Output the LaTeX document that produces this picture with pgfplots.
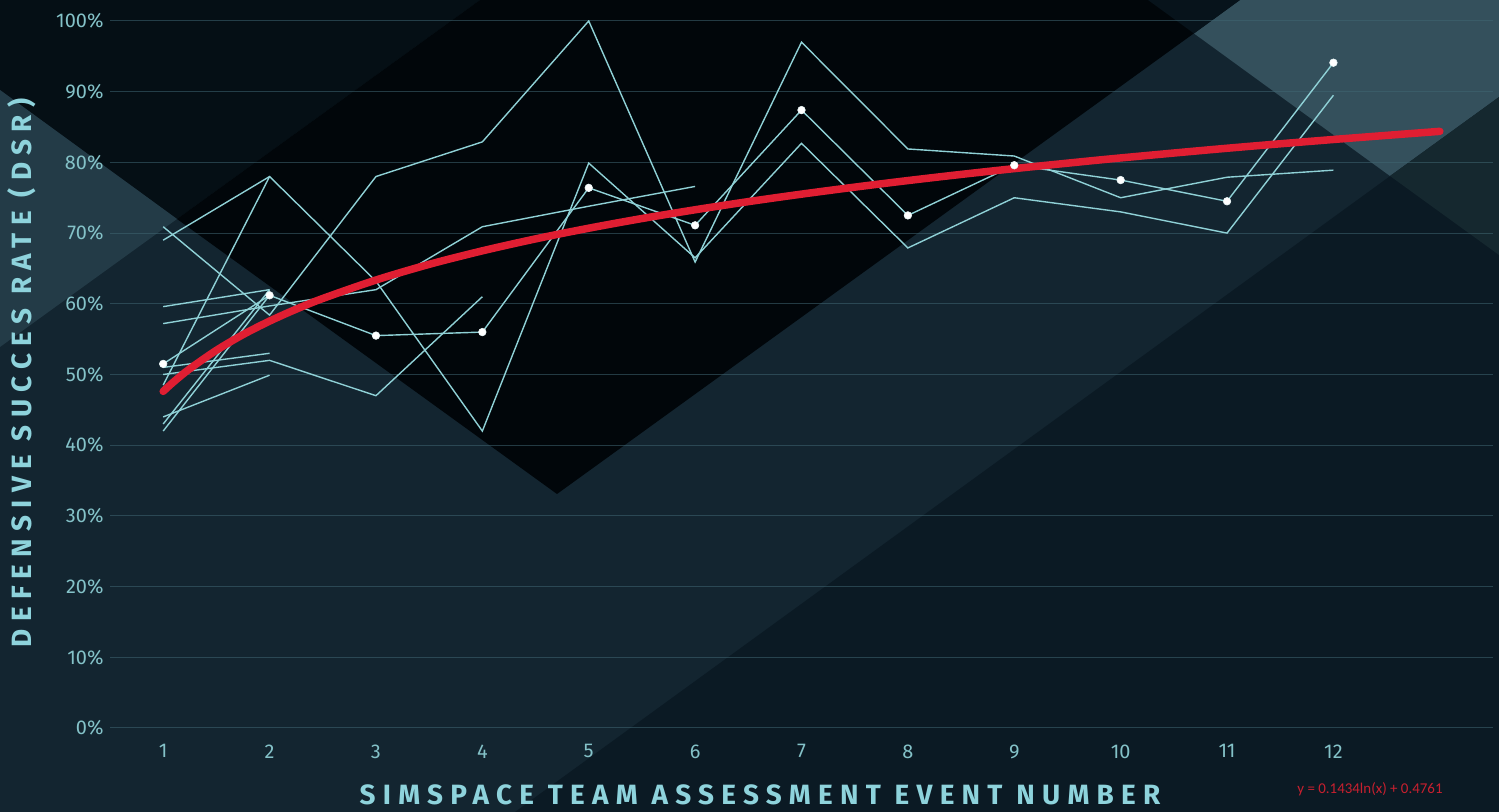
\documentclass[border=0pt]{standalone}
\usepackage{pgfplots}
\pgfplotsset{compat=1.18}
\usepackage{fontspec}
\setmainfont{Fira Sans}
\newfontfamily\titlefont[LetterSpace=26]{Fira Sans}
\newfontfamily\eqfont{Carlito}
\definecolor{navy}{HTML}{132530}
\definecolor{bgdark}{HTML}{0B1A24}
\definecolor{tldark}{HTML}{050F15}
\definecolor{leftlight}{HTML}{233B47}
\definecolor{blackz}{HTML}{01060A}
\definecolor{trlight}{HTML}{34505C}
\definecolor{trdark}{HTML}{07131B}
\definecolor{rmid}{HTML}{15282F}
\definecolor{gridc}{HTML}{3F6672}
\definecolor{tickc}{HTML}{84C2C8}
\definecolor{titlec}{HTML}{8ED3DC}
\definecolor{cyanline}{HTML}{8FD1D6}
\definecolor{trendred}{HTML}{E01E32}
\definecolor{eqred}{HTML}{C8202F}
\begin{document}
\begin{tikzpicture}
\useasboundingbox (0,0) rectangle (1499bp,812bp);
\fill[navy] (0,0) rectangle (1499bp,812bp);
\fill[bgdark] (515bp,0) -- (1499bp,715bp) -- (1499bp,0) -- cycle;
\fill[tldark] (0,812bp) -- (480bp,812bp) -- (177bp,593bp) -- (0,722bp) -- cycle;
\fill[leftlight] (0,722bp) -- (177bp,593bp) -- (0,465bp) -- cycle;
\fill[blackz] (177bp,593bp) -- (480bp,812bp) -- (1240bp,812bp) -- (557bp,318bp) -- cycle;
\fill[trlight] (1240bp,812bp) -- (1499bp,812bp) -- (1499bp,715bp) -- (1390bp,636bp) -- (1194bp,778.5bp) -- cycle;
\fill[trdark] (1148bp,812bp) -- (1240bp,812bp) -- (1194bp,778.5bp) -- cycle;
\fill[rmid] (1390bp,636bp) -- (1499bp,715bp) -- (1499bp,557bp) -- cycle;
\begin{axis}[
  at={(110bp,84bp)}, anchor=south west, scale only axis,
  width=1383bp, height=707bp,
  xmin=0.5, xmax=13.5, ymin=0, ymax=1,
  xtick={1,2,3,4,5,6,7,8,9,10,11,12},
  xticklabels={1,2,3,4,5,6,7,8,9,10,11,12},
  ytick={0,0.1,0.2,0.3,0.4,0.5,0.6,0.7,0.8,0.9,1},
  yticklabels={0\%,10\%,20\%,30\%,40\%,50\%,60\%,70\%,80\%,90\%,100\%},
  ymajorgrids,
  grid style={draw=gridc, draw opacity=0.55, line width=1bp},
  axis line style={draw=none},
  major tick length=0pt,
  tick label style={font=\fontsize{20}{22}\selectfont, text=tickc},
  yticklabel style={xshift=-3bp},
  xticklabel style={yshift=-13bp},
  dataline/.style={draw=cyanline, line width=1.4bp, mark=none},
]
\addplot[dataline] coordinates {(1,0.709)(2,0.584)(3,0.780)(4,0.829)(5,1.000)(6,0.659)(7,0.970)(8,0.819)(9,0.809)(10,0.750)(11,0.779)(12,0.789)};
\addplot[dataline] coordinates {(1,0.690)(2,0.780)(3,0.632)(4,0.420)(5,0.799)(6,0.665)(7,0.827)(8,0.679)(9,0.750)(10,0.730)(11,0.700)(12,0.895)};
\addplot[dataline] coordinates {(1,0.572)(2,0.597)(3,0.620)(4,0.709)(5,0.738)(6,0.766)};
\addplot[dataline] coordinates {(1,0.500)(2,0.520)(3,0.470)(4,0.610)};
\addplot[dataline] coordinates {(1,0.596)(2,0.620)};
\addplot[dataline] coordinates {(1,0.420)(2,0.612)};
\addplot[dataline] coordinates {(1,0.485)(2,0.780)};
\addplot[dataline] coordinates {(1,0.510)(2,0.530)};
\addplot[dataline] coordinates {(1,0.440)(2,0.499)};
\addplot[dataline] coordinates {(1,0.430)(2,0.620)};
\addplot[draw=cyanline, line width=1.4bp, mark=*, mark size=3.8bp, mark options={fill=white, draw=white!80!cyanline, line width=0.6bp}] coordinates {(1,0.515)(2,0.612)(3,0.555)(4,0.560)(5,0.764)(6,0.711)(7,0.874)(8,0.725)(9,0.796)(10,0.775)(11,0.745)(12,0.941)};
\addplot[draw=trendred, line width=7.5bp, line cap=round, line join=round, smooth, mark=none] coordinates {(1,0.4761)(1.1,0.4898)(1.25,0.5081)(1.5,0.5342)(1.75,0.5564)(2,0.5755)(2.25,0.5924)(2.5,0.6075)(3,0.6336)(3.5,0.6558)(4,0.6749)(4.5,0.6918)(5,0.7069)(5.5,0.7206)(6,0.7330)(6.5,0.7445)(7,0.7551)(7.5,0.7650)(8,0.7743)(8.5,0.7830)(9,0.7912)(9.5,0.7989)(10,0.8063)(11,0.8200)(12,0.8324)(13,0.8439)};
\end{axis}
\node[rotate=90, text=titlec, font=\titlefont\bfseries\fontsize{28}{30}\selectfont] at (22bp,439bp) {DEFENSIVE SUCCES RATE (DSR)};
\node[text=titlec, font=\titlefont\bfseries\fontsize{28}{30}\selectfont] at (760bp,17bp) {SIMSPACE TEAM ASSESSMENT EVENT NUMBER};
\node[text=eqred, font=\eqfont\fontsize{15}{17}\selectfont] at (1370bp,23bp) {y = 0.1434ln(x) + 0.4761};
\end{tikzpicture}
\end{document}
